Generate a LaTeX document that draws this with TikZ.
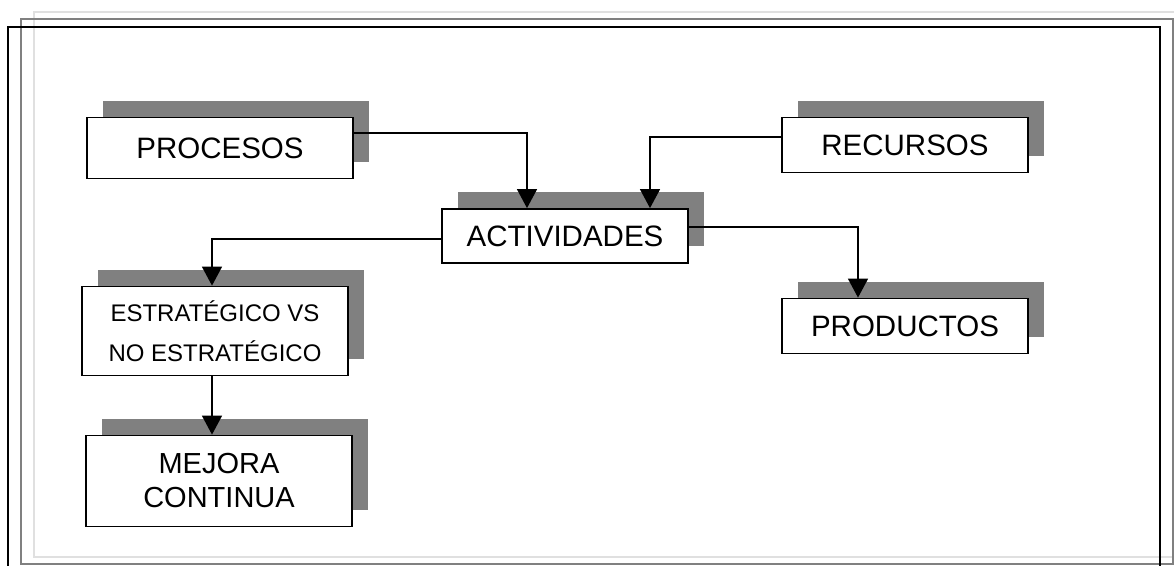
\documentclass[tikz,border=0pt]{standalone}
\usepackage{fontspec}
\setmainfont{Liberation Sans}
\usetikzlibrary{arrows.meta,shadows}
\begin{document}
\begin{tikzpicture}[x=1pt, y=-1pt,
  boxnode/.style={draw, line width=1.8pt, fill=white, align=center, inner sep=0pt, minimum width=246pt, minimum height=55pt, font=\fontsize{29.5}{35}\selectfont, drop shadow={shadow xshift=16pt, shadow yshift=17pt, fill=gray, opacity=1}},
  widebox/.style={boxnode, minimum width=266pt},
  frameline/.style={line width=1.6pt},
  arrow/.style={-{Triangle[width=20pt,length=19pt]}, line width=1.4pt}
]
\useasboundingbox (0,0) rectangle (1174,565);
% page frames
\draw[frameline, black!12] (34,12) rectangle (1200,557);
\draw[frameline, gray] (21,19) rectangle (1173,564);
\draw[line width=2pt] (8,27) rectangle (1160,600);

\node[widebox, minimum height=61pt] (procesos) at (220,148) {PROCESOS};
\node[boxnode] (recursos) at (905,145) {RECURSOS};
\node[boxnode, minimum height=54pt] (actividades) at (565,236) {ACTIVIDADES};
\node[boxnode] (productos) at (905,326) {PRODUCTOS};
\node[widebox, minimum height=89pt, font=\fontsize{24}{40}\selectfont] (estrategico) at (215,331) {ESTRATÉGICO VS\\NO ESTRATÉGICO};
\node[widebox, minimum height=91pt, font=\fontsize{29}{34}\selectfont] (mejora) at (219,481) {MEJORA\\CONTINUA};

\draw[arrow] ([yshift=15pt]procesos.east) -| ([xshift=-38pt]actividades.north);
\draw[arrow] ([yshift=8pt]recursos.west) -| ([xshift=85pt]actividades.north);
\draw[arrow] ([yshift=-3pt]actividades.west) -| ([xshift=-3pt]estrategico.north);
\draw[arrow] ([yshift=9pt]actividades.east) -| ([xshift=-47pt]productos.north);
\draw[arrow] ([xshift=-3pt]estrategico.south) -- ([xshift=-3pt]estrategico.south |- mejora.north);
\end{tikzpicture}
\end{document}
